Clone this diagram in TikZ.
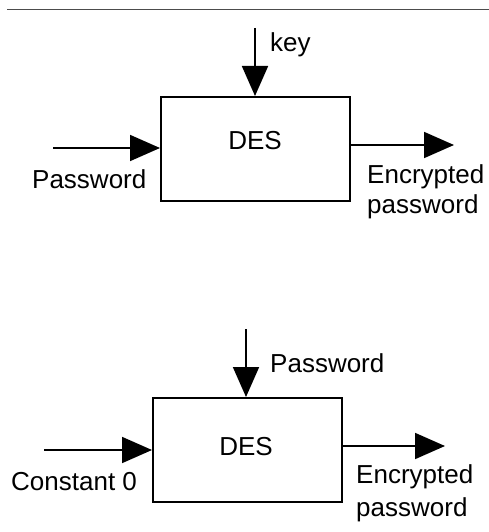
\documentclass[tikz,border=0pt]{standalone}
\usepackage{fontspec}
\setmainfont{Liberation Sans}
\usetikzlibrary{arrows.meta}
\begin{document}
\begin{tikzpicture}[x=1pt,y=-1pt,
  desbox/.style={draw,line width=1.8pt,minimum width=189pt,minimum height=104pt,inner sep=0pt,anchor=north west},
  flow/.style={line width=1.8pt,-{Triangle[length=30pt,width=26pt]}},
  lbl/.style={font=\fontsize{26}{30}\selectfont,inner sep=0pt},
  outlbl/.style={lbl,align=left,anchor=north west}]
\useasboundingbox (0,0) rectangle (489,532);
% header rule
\draw[line width=0.8pt,black!70] (7,9) -- (489,9);

% upper block: password encrypted under a key
\node[desbox] (des1) at (160,96) {};
\node[lbl] (des1t) at (255,141) {DES};
\coordinate (k1) at (255,28);
\coordinate (p1) at (53,148);
\coordinate (o1) at (454,145);
\draw[flow] (k1) -- (255,96);
\draw[flow] (p1) -- (160,148);
\draw[flow] (349,145) -- (o1);
\node[lbl,anchor=west] (key1) at (270,45) {key};
\node[lbl,anchor=west] (pw1) at (32,179) {Password};
\node[outlbl] (enc1) at (367,164) {Encrypted\\password};

% lower block: constant 0 encrypted under the password
\node[desbox] (des2) at (152,397) {};
\node[lbl] (des2t) at (246,447) {DES};
\coordinate (k2) at (246,329);
\coordinate (p2) at (44,450);
\coordinate (o2) at (445,446);
\draw[flow] (k2) -- (246,397);
\draw[flow] (p2) -- (152,450);
\draw[flow] (341,446) -- (o2);
\node[lbl,anchor=west] (key2) at (270,363) {Password};
\node[lbl,anchor=west] (c0) at (11,482) {Constant 0};
\node[outlbl,font=\fontsize{26}{33}\selectfont] (enc2) at (356,464) {Encrypted\\password};
\end{tikzpicture}
\end{document}
